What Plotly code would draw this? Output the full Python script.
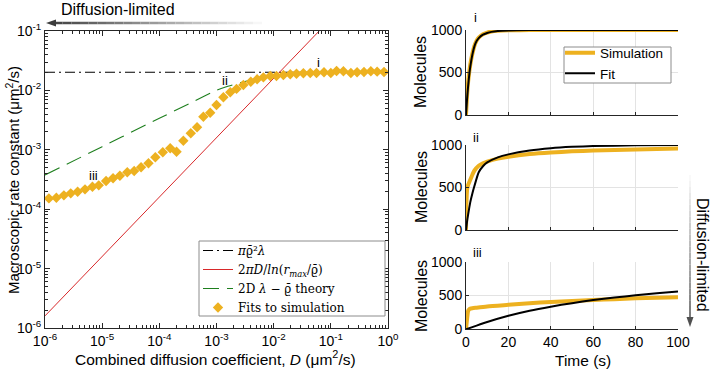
import plotly.graph_objects as go

# ---------------- data: left panel ----------------
D_sim = [1.17e-6, 1.58e-6, 2.14e-6, 2.82e-6, 3.72e-6, 5.01e-6, 6.76e-6, 8.71e-6,
         1.17e-5, 1.55e-5, 2.04e-5, 2.75e-5, 3.63e-5, 4.79e-5, 6.46e-5, 8.51e-5,
         1.15e-4, 1.55e-4, 2.00e-4, 2.63e-4, 3.55e-4, 4.57e-4, 5.89e-4, 7.76e-4,
         1.00e-3, 1.32e-3, 1.74e-3, 2.24e-3, 2.95e-3, 3.98e-3, 5.13e-3, 6.61e-3,
         8.71e-3, 1.12e-2, 1.48e-2, 1.95e-2, 2.51e-2, 3.31e-2, 4.37e-2, 5.62e-2,
         7.59e-2, 1.00e-1, 1.26e-1, 1.66e-1, 2.24e-1, 2.88e-1, 3.80e-1, 5.01e-1,
         6.46e-1, 8.51e-1]
k_sim = [1.52e-4, 1.56e-4, 1.71e-4, 1.85e-4, 1.97e-4, 2.16e-4, 2.39e-4, 2.52e-4,
         2.98e-4, 3.31e-4, 3.66e-4, 4.18e-4, 4.40e-4, 5.07e-4, 5.93e-4, 7.48e-4,
         9.08e-4, 1.06e-3, 9.29e-4, 1.42e-3, 1.90e-3, 2.39e-3, 3.60e-3, 4.21e-3,
         5.68e-3, 7.65e-3, 9.29e-3, 1.06e-2, 1.23e-2, 1.40e-2, 1.54e-2, 1.66e-2,
         1.75e-2, 1.75e-2, 1.82e-2, 1.87e-2, 1.91e-2, 1.94e-2, 1.96e-2, 1.96e-2,
         2.02e-2, 1.96e-2, 2.12e-2, 2.10e-2, 1.96e-2, 2.02e-2, 2.04e-2, 2.10e-2,
         2.07e-2, 2.04e-2]

D_lim = [1e-6, 1e0]
k_lim = [2.02e-2, 2.02e-2]          # pi*rho^2*lambda

D_diff = [1e-6, 1e0]
k_diff = [1.6e-6, 1.6e0]            # 2 pi D / ln(rmax/rho)

D_theory = [1e-6, 1e-5, 1e-4, 6.3e-4, 1e-3, 1.58e-3, 2.51e-3, 3.98e-3,
            6.31e-3, 1e-2, 1.58e-2, 3.16e-2, 1e-1, 1e0]
k_theory = [3.77e-4, 1.13e-3, 3.39e-3, 8.1e-3, 1.0e-2, 1.17e-2, 1.33e-2, 1.48e-2,
            1.60e-2, 1.72e-2, 1.82e-2, 1.93e-2, 2.0e-2, 2.02e-2]

x_ticks = [1e-6, 1e-5, 1e-4, 1e-3, 1e-2, 1e-1, 1e0]
x_ticktext = ["10<sup>-6</sup>", "10<sup>-5</sup>", "10<sup>-4</sup>", "10<sup>-3</sup>",
              "10<sup>-2</sup>", "10<sup>-1</sup>", "10<sup>0</sup>"]
y_ticks = [1e-6, 1e-5, 1e-4, 1e-3, 1e-2, 1e-1]
y_ticktext = ["10<sup>-6</sup>", "10<sup>-5</sup>", "10<sup>-4</sup>", "10<sup>-3</sup>",
              "10<sup>-2</sup>", "10<sup>-1</sup>"]

# ---------------- data: right panels ----------------
t_i = [0, 0.5, 1, 1.5, 2, 3, 4, 5, 6, 8, 10, 12, 15, 20, 30, 50, 100]
sim_i = [0, 230, 390, 500, 590, 720, 815, 875, 910, 950, 970, 982, 990, 996, 999, 1000, 1000]
fit_i = [0, 190, 340, 465, 565, 710, 810, 870, 905, 945, 965, 978, 988, 995, 999, 1000, 1000]

t_ii = [0, 0.2, 0.5, 1, 2, 3, 4, 6, 8, 10, 15, 20, 30, 40, 50, 60, 80, 100]
sim_ii = [0, 300, 470, 530, 590, 650, 700, 755, 785, 805, 840, 862, 893, 912, 925, 935, 948, 958]
t_ii_fit = [0, 0.5, 1, 2, 3, 4, 6, 8, 10, 15, 20, 30, 40, 50, 60, 80, 100]
fit_ii = [0, 100, 180, 325, 430, 520, 680, 750, 795, 855, 890, 935, 962, 978, 988, 996, 1000]

t_iii = [0, 0.5, 1, 1.5, 2, 3, 5, 10, 20, 30, 40, 50, 60, 70, 80, 90, 100]
sim_iii = [0, 150, 270, 295, 305, 312, 320, 338, 362, 385, 405, 420, 433, 446, 458, 467, 475]
t_iii_fit = [0, 5, 10, 20, 30, 40, 50, 60, 70, 80, 90, 100]
fit_iii = [0, 55, 108, 200, 275, 335, 387, 432, 470, 503, 532, 560]

time_ticks = [0, 20, 40, 60, 80, 100]
mol_ticks = [0, 500, 1000]

GOLD = "#EDB120"
AX = "#262626"
SANS = "Liberation Sans, Arial, sans-serif"
SERIF = "DejaVu Serif, Liberation Serif, serif"
W, H = 714, 369

def px(x):
    return x / W

def py(y):
    return 1 - y / H

fig = go.Figure()

# ---------- left panel traces ----------
fig.add_trace(go.Scatter(x=D_lim, y=k_lim, mode="lines",
                         line=dict(color="black", width=1.1, dash="10px,4px,2px,4px"),
                         name="<i>π</i>ϱ̄²<i>λ</i>", legend="legend"))
fig.add_trace(go.Scatter(x=D_diff, y=k_diff, mode="lines",
                         line=dict(color="#D8282A", width=1),
                         name="2<i>πD</i>/<i>ln</i>(<i>r<sub>max</sub></i>/ϱ̄)",
                         legend="legend"))
fig.add_trace(go.Scatter(x=D_theory, y=k_theory, mode="lines",
                         line=dict(color="#1E7F1E", width=1.1, dash="16px,8px", shape="spline"),
                         name="2D <i>λ</i> − ϱ̄ theory", legend="legend"))
fig.add_trace(go.Scatter(x=D_sim, y=k_sim, mode="markers",
                         marker=dict(symbol="diamond", size=8, color=GOLD,
                                     line=dict(width=0)),
                         name="Fits to simulation", legend="legend"))

# ---------- right panel traces ----------
panels = [("x2", "y2", t_i, sim_i, t_i, fit_i),
          ("x3", "y3", t_ii, sim_ii, t_ii_fit, fit_ii),
          ("x4", "y4", t_iii, sim_iii, t_iii_fit, fit_iii)]
for n, (xa, ya, ts, ss, tf, ff) in enumerate(panels):
    fig.add_trace(go.Scatter(x=ts, y=ss, mode="lines", xaxis=xa, yaxis=ya,
                             line=dict(color=GOLD, width=4, shape="spline", smoothing=0.6),
                             name="Simulation", legend="legend2", showlegend=(n == 0),
                             cliponaxis=True))
    fig.add_trace(go.Scatter(x=tf, y=ff, mode="lines", xaxis=xa, yaxis=ya,
                             line=dict(color="black", width=2, shape="spline", smoothing=0.6),
                             name="Fit", legend="legend2", showlegend=(n == 0),
                             cliponaxis=True))

minor_vals = [m * 10 ** e for e in range(-6, 0) for m in range(2, 10)]

fig.update_layout(
    width=W, height=H,
    margin=dict(l=0, r=0, t=0, b=0, autoexpand=False),
    paper_bgcolor="white", plot_bgcolor="white",
    font=dict(family=SANS, size=14, color="black"),
    showlegend=True,
    xaxis=dict(type="log", range=[-6, 0], domain=[px(45), px(388)], anchor="y",
               tickvals=x_ticks, ticktext=x_ticktext, ticks="inside", ticklen=5,
               tickcolor=AX, showline=True, linecolor=AX, linewidth=1, mirror="ticks",
               showgrid=False, zeroline=False, tickfont=dict(size=14),
               minor=dict(tickvals=minor_vals, ticks="inside", ticklen=3, tickcolor=AX,
                          showgrid=False)),
    yaxis=dict(type="log", range=[-6, -1], domain=[py(328), py(31)], anchor="x",
               tickvals=y_ticks, ticktext=y_ticktext, ticks="inside", ticklen=5,
               tickcolor=AX, showline=True, linecolor=AX, linewidth=1, mirror="ticks",
               showgrid=False, zeroline=False, tickfont=dict(size=14),
               minor=dict(tickvals=minor_vals, ticks="inside", ticklen=3, tickcolor=AX,
                          showgrid=False)),
    legend=dict(x=px(198), y=py(236), xanchor="left", yanchor="top",
                bgcolor="rgba(0,0,0,0)", borderwidth=0,
                font=dict(family=SERIF, size=12), tracegroupgap=0,
                itemwidth=30),
    legend2=dict(x=px(560), y=py(37.5), xanchor="left", yanchor="top",
                 bgcolor="rgba(0,0,0,0)", borderwidth=0,
                 font=dict(family=SANS, size=13.5), tracegroupgap=0,
                 itemwidth=30),
)

right_dom = [px(466), px(678)]
ydoms = [[py(115), py(30)], [py(230), py(145)], [py(329.3), py(261.7)]]
for i, (xa, ya) in enumerate([("xaxis2", "yaxis2"), ("xaxis3", "yaxis3"), ("xaxis4", "yaxis4")]):
    xn = "x%d" % (i + 2)
    yn = "y%d" % (i + 2)
    fig.update_layout(**{
        xa: dict(domain=right_dom, anchor=yn, range=[0, 100], tickvals=time_ticks,
                 showticklabels=(i == 2), ticks="inside", ticklen=3, tickcolor=AX,
                 showline=True, linecolor=AX, linewidth=1, showgrid=True,
                 gridcolor="#e3e3e3", gridwidth=1, zeroline=False,
                 tickfont=dict(size=14)),
        ya: dict(domain=ydoms[i], anchor=xn, range=[0, 1000], tickvals=mol_ticks,
                 ticks="inside", ticklen=3, tickcolor=AX, showline=True, linecolor=AX,
                 linewidth=1, showgrid=True, gridcolor="#e3e3e3", gridwidth=1,
                 zeroline=False, tickfont=dict(size=14)),
    })


def note(text, x, y, size, angle=0, family=SANS):
    return dict(text=text, x=px(x), y=py(y), xref="paper", yref="paper",
                xanchor="center", yanchor="middle", showarrow=False,
                textangle=angle, font=dict(size=size, family=family))


ann = []
ann.append(note("Macroscopic rate constant (μm<sup>2</sup>/s)", 12, 180, 15, -90))
ann.append(note("Combined diffusion coefficient, <i>D</i> (μm<sup>2</sup>/s)", 216, 358, 15.5))
ann.append(note("Time (s)", 583, 360, 15.5))
for yc in [72, 187, 296]:
    ann.append(note("Molecules", 421, yc, 16, -90))
for txt, xx, yy in [("i", 475, 17), ("ii", 476, 137), ("iii", 478, 253)]:
    ann.append(note(txt, xx, yy, 13))
for txt, xx, yy in [("i", 318, 62), ("ii", 225, 81), ("iii", 93, 175)]:
    ann.append(note(txt, xx, yy, 13))
ann.append(note("Diffusion-limited", 118, 9, 16))
ann.append(note("Diffusion-limited", 703, 255, 16, 90))

shapes = []
# legend boxes (drawn behind the transparent legends)
shapes.append(dict(type="rect", xref="paper", yref="paper",
                   x0=px(199), x1=px(385), y0=py(316), y1=py(241),
                   fillcolor="white", line=dict(color="#8c8c8c", width=1), layer="above"))
shapes.append(dict(type="rect", xref="paper", yref="paper",
                   x0=px(564), x1=px(671), y0=py(83), y1=py(47),
                   fillcolor="white", line=dict(color="#8c8c8c", width=1), layer="above"))
# gradient horizontal arrow (dark at left)
nseg = 24
x0, x1 = 54, 262
for s in range(nseg):
    f = s / nseg
    c = int(70 + f * 185)
    xa0 = x0 + (x1 - x0) * s / nseg
    xa1 = x0 + (x1 - x0) * (s + 1) / nseg
    shapes.append(dict(type="line", xref="paper", yref="paper",
                       x0=px(xa0), x1=px(xa1), y0=py(23), y1=py(23),
                       line=dict(color="rgb(%d,%d,%d)" % (c, c, c), width=2.5)))
shapes.append(dict(type="path", xref="paper", yref="paper",
                   path="M %f %f L %f %f L %f %f Z" % (px(46), py(23), px(56), py(19.5), px(56), py(26.5)),
                   fillcolor="#3c3c3c", line=dict(width=0)))
# gradient vertical arrow (dark at bottom)
y0, y1 = 318, 175
for s in range(nseg):
    f = s / nseg
    c = int(80 + f * 175)
    ya0 = y0 + (y1 - y0) * s / nseg
    ya1 = y0 + (y1 - y0) * (s + 1) / nseg
    shapes.append(dict(type="line", xref="paper", yref="paper",
                       x0=px(690), x1=px(690), y0=py(ya0), y1=py(ya1),
                       line=dict(color="rgb(%d,%d,%d)" % (c, c, c), width=1.5)))
shapes.append(dict(type="path", xref="paper", yref="paper",
                   path="M %f %f L %f %f L %f %f Z" % (px(690), py(327), px(686.5), py(317), px(693.5), py(317)),
                   fillcolor="#505050", line=dict(width=0)))

fig.update_layout(annotations=ann, shapes=shapes)

fig.write_html("out.html", config={"displayModeBar": False},
               post_script="document.body.style.margin='0';document.body.style.overflow='hidden';")
